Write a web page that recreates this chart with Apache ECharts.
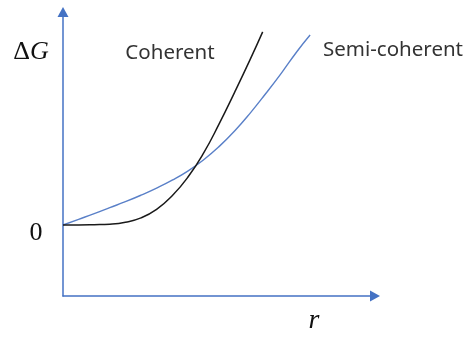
<!DOCTYPE html>
<html>
<head>
<meta charset="utf-8">
<script src="https://cdn.jsdelivr.net/npm/echarts@6/dist/echarts.min.js"></script>
<style>
  html, body { margin: 0; padding: 0; background: #fff; }
  #chart { width: 470px; height: 337px; }
</style>
</head>
<body>
<div id="chart"></div>
<script>
// Free energy change vs. nucleus radius (arbitrary units)
const rCoherent   = [0, 0.5, 1.0, 1.5, 2.0, 2.5, 3.0, 3.5, 4.0, 4.5, 5.0, 5.5, 6.0, 6.4];
const dgCoherent  = [0, 0.00, 0.01, 0.03, 0.10, 0.25, 0.55, 1.03, 1.68, 2.52, 3.55, 4.67, 5.83, 6.80];
const rSemi       = [0, 0.5, 1.0, 1.5, 2.0, 2.5, 3.0, 3.5, 4.0, 4.5, 5.0, 5.5, 6.0, 6.5, 7.0, 7.5, 7.92];
const dgSemi      = [0, 0.20, 0.40, 0.61, 0.82, 1.05, 1.30, 1.58, 1.90, 2.29, 2.76, 3.31, 3.94, 4.63, 5.35, 6.11, 6.69];
const seriesNames = ['Coherent', 'Semi-coherent'];
const yZeroLabel  = '0';

const pairs = (xs, ys) => xs.map((x, i) => [x, ys[i]]);

const axisBlue = '#4472C4';
const chart = echarts.init(document.getElementById('chart'), null, { renderer: 'canvas' });

const axisCommon = {
  type: 'value',
  axisLabel: { show: false },
  axisTick: { show: false },
  splitLine: { show: false },
  axisLine: {
    show: true,
    onZero: false,
    symbol: ['none', 'triangle'],
    symbolSize: [11, 10],
    lineStyle: { color: axisBlue, width: 1.5 }
  }
};

chart.setOption({
  animation: false,
  backgroundColor: '#ffffff',
  grid: { left: 63, right: 95, top: 12, bottom: 41 },
  xAxis: Object.assign({}, axisCommon, { min: 0, max: 10 }),
  yAxis: Object.assign({}, axisCommon, { min: -2.5, max: 7.5 }),
  series: [
    {
      name: seriesNames[0],
      type: 'line',
      data: pairs(rCoherent, dgCoherent),
      smooth: 0.5,
      showSymbol: false,
      lineStyle: { color: '#1a1a1a', width: 1.5 },
      z: 3
    },
    {
      name: seriesNames[1],
      type: 'line',
      data: pairs(rSemi, dgSemi),
      smooth: 0.5,
      showSymbol: false,
      lineStyle: { color: '#5A80C8', width: 1.4 },
      z: 2
    }
  ],
  graphic: [
    {
      type: 'text', x: 31, y: 52,
      style: {
        text: '{d|Δ}{g|G}',
        align: 'center', verticalAlign: 'middle',
        rich: {
          d: { font: '26px "Liberation Serif", "DejaVu Serif", serif', fill: '#111' },
          g: { font: 'italic 26px "Liberation Serif", "DejaVu Serif", serif', fill: '#111' }
        }
      }
    },
    {
      type: 'text', x: 36, y: 233,
      style: {
        text: yZeroLabel, align: 'center', verticalAlign: 'middle',
        font: '26px "Liberation Serif", "DejaVu Serif", serif', fill: '#111'
      }
    },
    {
      type: 'text', x: 314, y: 321,
      style: {
        text: 'r', align: 'center', verticalAlign: 'middle',
        font: 'italic 28px "Liberation Serif", "DejaVu Serif", serif', fill: '#111'
      }
    },
    {
      type: 'text', x: 170, y: 53,
      style: {
        text: seriesNames[0], align: 'center', verticalAlign: 'middle',
        font: '20.5px "Noto Sans", "Open Sans", sans-serif', fill: '#333'
      }
    },
    {
      type: 'text', x: 393, y: 50,
      style: {
        text: seriesNames[1], align: 'center', verticalAlign: 'middle',
        font: '20.5px "Noto Sans", "Open Sans", sans-serif', fill: '#333'
      }
    }
  ]
});
</script>
</body>
</html>
